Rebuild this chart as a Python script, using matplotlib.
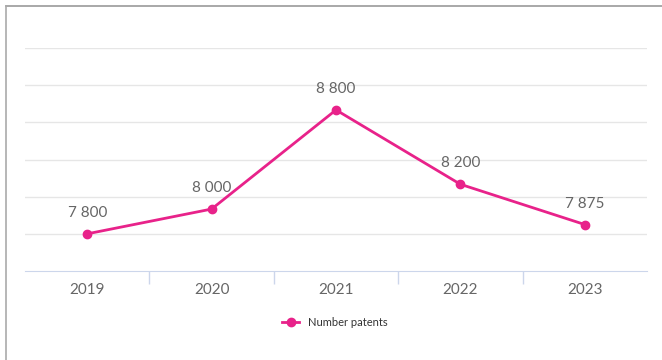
import matplotlib.pyplot as plt
import numpy as np
from matplotlib.lines import Line2D

years = ['2019', '2020', '2021', '2022', '2023']
patents = [7800, 8000, 8800, 8200, 7875]
value_labels = ['7 800', '8 000', '8 800', '8 200', '7 875']

plt.rcParams['font.family'] = ['Lato', 'DejaVu Sans']

fig = plt.figure(figsize=(6.62, 3.6), dpi=100)
ax = fig.add_axes([25 / 662, 1 - 271 / 360, 622 / 662, 223 / 360])

x = np.arange(len(years))
ax.plot(x, patents, color='#e8228a', lw=2, marker='o', ms=6, zorder=3)
for xi, yi, lab in zip(x, patents, value_labels):
    ax.annotate(lab, (xi, yi), xytext=(0, 10), textcoords='offset points',
                ha='center', va='bottom', fontsize=11, color='#666666')

ax.set_xlim(-0.5, len(years) - 0.5)
ax.set_ylim(7500, 9300)
ax.set_yticks(np.arange(7800, 9301, 300))
ax.yaxis.grid(True, color='#e6e6e6', lw=1)
ax.tick_params(axis='y', left=False, labelleft=False)

ax.set_xticks(x)
ax.set_xticklabels(years, fontsize=11, color='#666666')
ax.tick_params(axis='x', length=0, pad=9)
ax.set_xticks(np.arange(0.5, len(years) - 1, 1), minor=True)
ax.tick_params(axis='x', which='minor', length=9, color='#ccd6eb', width=1)

for s in ['top', 'right', 'left']:
    ax.spines[s].set_visible(False)
ax.spines['bottom'].set_color('#ccd6eb')

handle = Line2D([], [], color='#e8228a', lw=2, marker='o', ms=6)
fig.legend([handle], ['Number patents'], loc='center', bbox_to_anchor=(335 / 662, 1 - 322 / 360),
           frameon=False, fontsize=8, handlelength=1.5, labelcolor='#333333')

# outer frame: top and left lines
fig.add_artist(Line2D([6 / 662, 1], [1 - 6 / 360, 1 - 6 / 360], color='#999999', lw=1.2))
fig.add_artist(Line2D([6 / 662, 6 / 662], [0, 1 - 6 / 360], color='#aaaaaa', lw=1.2))

fig.savefig('out.png', dpi=100)
